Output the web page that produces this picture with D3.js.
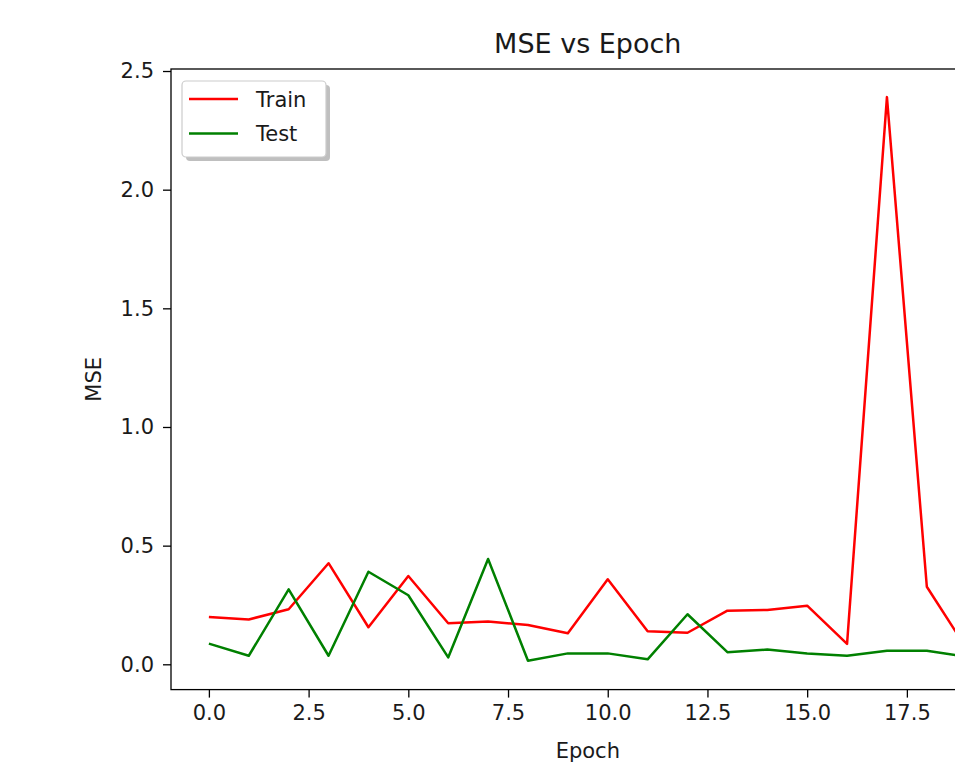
<!DOCTYPE html>
<html>
<head>
<meta charset="utf-8">
<script src="https://cdn.jsdelivr.net/npm/d3@7/dist/d3.min.js"></script>
<style>
  html, body { margin: 0; padding: 0; background: #fff; overflow: hidden; }
  svg { display: block; }
  text { font-family: "DejaVu Sans", sans-serif; fill: #1a1a1a; }
</style>
</head>
<body>
<svg id="chart" width="955" height="763"></svg>
<script>
const epochs = d3.range(0, 20);
const trainMSE = [0.199, 0.189, 0.232, 0.426, 0.156, 0.372, 0.173, 0.180, 0.166, 0.131,
                  0.358, 0.139, 0.133, 0.226, 0.229, 0.247, 0.086, 2.39, 0.327, 0.066];
const testMSE  = [0.087, 0.036, 0.316, 0.036, 0.390, 0.291, 0.029, 0.444, 0.015, 0.046,
                  0.046, 0.021, 0.211, 0.051, 0.062, 0.046, 0.036, 0.057, 0.057, 0.032];
const xTicks = [0, 2.5, 5, 7.5, 10, 12.5, 15, 17.5];
const yTicks = [0, 0.5, 1.0, 1.5, 2.0, 2.5];
const seriesNames = ["Train", "Test"];
const seriesColors = ["#ff0000", "#008000"];

(function () {
const svg = d3.select("#chart");
const pLeft = 171, pRight = 1004.6, pTop = 69, pBottom = 689.6;

const x = d3.scaleLinear().domain([-0.95, 19.95]).range([pLeft, pRight]);
const y = d3.scaleLinear().domain([-0.1066, 2.5085]).range([pBottom, pTop]);

svg.append("defs").append("clipPath").attr("id", "clip")
  .append("rect").attr("x", pLeft).attr("y", pTop).attr("width", pRight - pLeft).attr("height", pBottom - pTop);

// lines
const line = d3.line().x((d, i) => x(epochs[i])).y(d => y(d));
[trainMSE, testMSE].forEach((s, k) => {
  svg.append("path").datum(s)
    .attr("clip-path", "url(#clip)")
    .attr("fill", "none")
    .attr("stroke", seriesColors[k])
    .attr("stroke-width", 2.5)
    .attr("stroke-linejoin", "round")
    .attr("d", line);
});

// axes
const xAxis = d3.axisBottom(x).tickValues(xTicks).tickFormat(d3.format(".1f")).tickSize(8).tickPadding(7);
const yAxis = d3.axisLeft(y).tickValues(yTicks).tickFormat(d3.format(".1f")).tickSize(8).tickPadding(9);

const gx = svg.append("g").attr("transform", `translate(0,${pBottom})`).call(xAxis);
const gy = svg.append("g").attr("transform", `translate(${pLeft},0)`).call(yAxis);
[gx, gy].forEach(g => {
  g.select(".domain").remove();
  g.selectAll(".tick line").attr("stroke", "#000").attr("stroke-width", 1.3);
  g.selectAll(".tick text").attr("font-size", 21).attr("fill", "#1a1a1a")
    .style("font-family", '"DejaVu Sans", sans-serif');
});

// spines
svg.append("rect").attr("x", pLeft).attr("y", pTop).attr("width", pRight - pLeft).attr("height", pBottom - pTop)
  .attr("fill", "none").attr("stroke", "#000").attr("stroke-width", 1.3);

// title and labels
svg.append("text").attr("x", (pLeft + pRight) / 2).attr("y", 53).attr("text-anchor", "middle")
  .attr("font-size", 27).text("MSE vs Epoch");
svg.append("text").attr("x", (pLeft + pRight) / 2).attr("y", 758).attr("text-anchor", "middle")
  .attr("font-size", 21).text("Epoch");
svg.append("text").attr("transform", `translate(101,${(pTop + pBottom) / 2}) rotate(-90)`)
  .attr("text-anchor", "middle").attr("font-size", 21).text("MSE");

// legend
const lg = svg.append("g");
lg.append("rect").attr("x", 186).attr("y", 85).attr("width", 144).attr("height", 76).attr("rx", 4)
  .attr("fill", "#808080").attr("opacity", 0.5);
lg.append("rect").attr("x", 182).attr("y", 81).attr("width", 144).attr("height", 76).attr("rx", 4)
  .attr("fill", "#fff").attr("stroke", "#cccccc").attr("stroke-width", 1.2);
seriesNames.forEach((name, i) => {
  const cy = 99 + i * 34.5;
  lg.append("line").attr("x1", 189).attr("x2", 238).attr("y1", cy).attr("y2", cy)
    .attr("stroke", seriesColors[i]).attr("stroke-width", 2.5);
  lg.append("text").attr("x", 256).attr("y", cy + 7.7).attr("font-size", 21).text(name);
});
})();
</script>
</body>
</html>
